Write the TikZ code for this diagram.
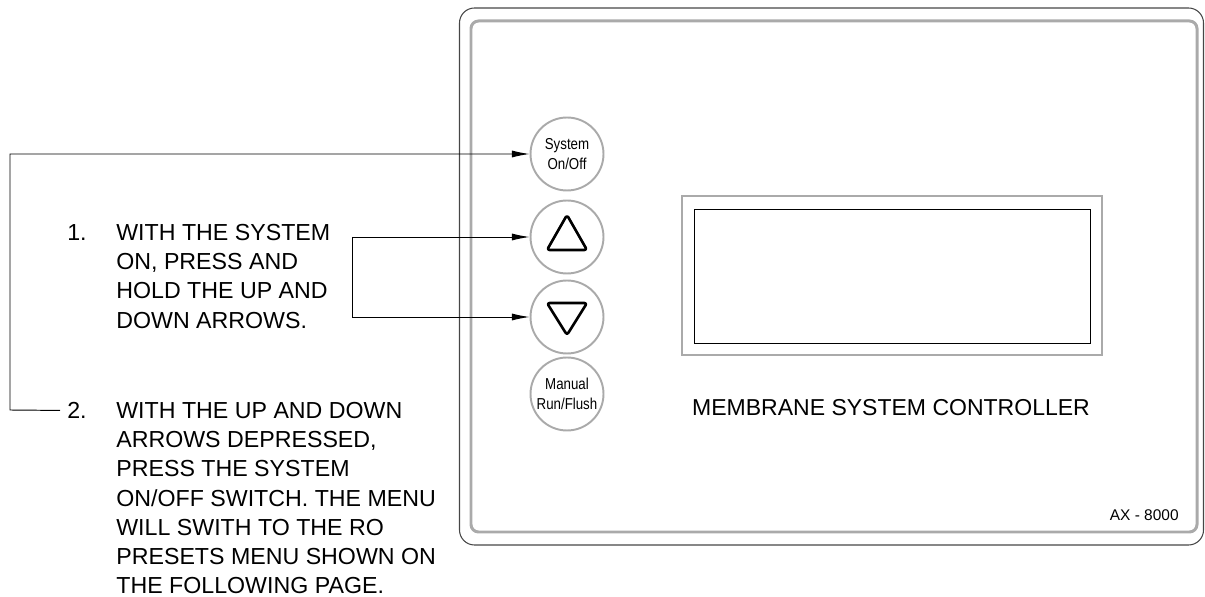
\documentclass[tikz,border=0pt]{standalone}
\usepackage{fontspec}
\setmainfont{Liberation Sans}
\usetikzlibrary{arrows.meta}

\definecolor{rimgray}{RGB}{170,170,170}
\definecolor{framegray}{RGB}{70,70,70}

\begin{document}
\begin{tikzpicture}[x=0.02cm,y=-0.02cm,
    btn/.style={circle,draw=rimgray,line width=1.1pt,minimum size=1.46cm,inner sep=0pt,align=center,
        font=\fontsize{9}{11.2}\selectfont\addfontfeature{FakeStretch=0.84}},
    conn/.style={draw=black,line width=0.55pt,-{Latex[length=10pt,width=4pt]}},
    tri/.style={line width=1.5pt,rounded corners=1.5pt,line join=round},
    steptext/.style={anchor=north west,inner sep=0pt,align=left,
        font=\fontsize{13.2}{16.6}\selectfont}]
    \useasboundingbox (0,0) rectangle (1205,597);
    \draw[framegray,line width=0.6pt,rounded corners=0.3cm] (459.5,8) rectangle (1203.5,545);
    \draw[rimgray,line width=1.7pt,rounded corners=0.15cm] (471,21) rectangle (1197,532);
    \draw[rimgray,line width=1.7pt] (682,196) rectangle (1102,355);
    \draw[black,line width=0.5pt] (694,209) rectangle (1090,343);
    \node[font=\fontsize{13.1}{16}\selectfont] (title) at (891,408) {MEMBRANE SYSTEM CONTROLLER};
    \node[anchor=east,inner sep=0pt,font=\fontsize{8.8}{10}\selectfont] (model) at (1179,515) {AX - 8000};
    \node[btn] (sys) at (567,154) {System\\On/Off};
    \node[btn] (up) at (567,237) {};
    \node[btn] (down) at (567,317) {};
    \node[btn] (manual) at (567,394) {Manual\\Run/Flush};
    \draw[tri] ([shift={(0,-22)}]up.center) -- ([shift={(20,13)}]up.center) -- ([shift={(-20,13)}]up.center) -- cycle;
    \draw[tri] ([shift={(0,18)}]down.center) -- ([shift={(-20,-14)}]down.center) -- ([shift={(20,-14)}]down.center) -- cycle;
    \node[steptext] (num1) at (67,224) {1.};
    \node[steptext] (step1) at (116,224) {WITH THE SYSTEM\\ON, PRESS AND\\HOLD THE UP AND\\DOWN ARROWS.};
    \node[steptext] (num2) at (67,402) {2.};
    \node[steptext] (step2) at (116,402) {WITH THE UP AND DOWN\\ARROWS DEPRESSED,\\PRESS THE SYSTEM\\ON/OFF SWITCH. THE MENU\\WILL SWITH TO THE RO\\PRESETS MENU SHOWN ON\\THE FOLLOWING PAGE.};
    \coordinate (corner) at (10,410);
    \coordinate (fork) at (352,237);
    \draw[conn] ([xshift=-0.14cm]num2.west) -- (corner) |- (sys);
    \draw[conn] (fork) -- (up);
    \draw[conn] (fork) |- (down);
\end{tikzpicture}
\end{document}
